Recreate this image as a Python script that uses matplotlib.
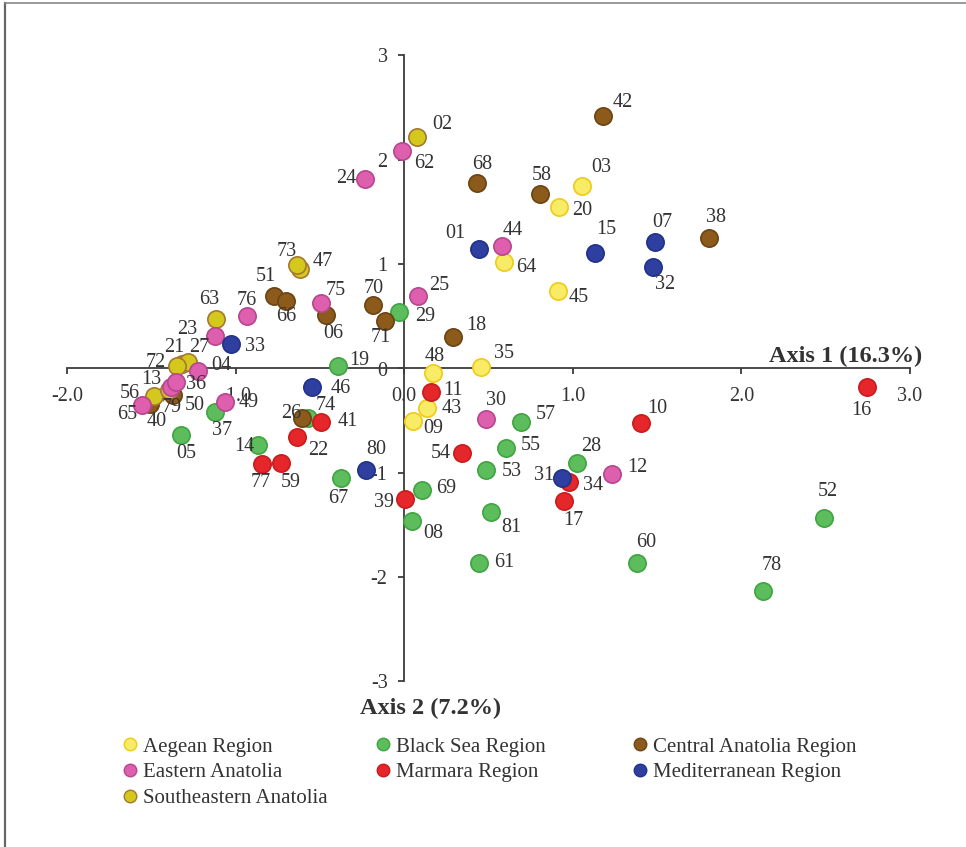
import matplotlib
matplotlib.use("Agg")
import matplotlib.pyplot as plt
from matplotlib.lines import Line2D

plt.rcParams['font.family'] = ['Liberation Serif', 'DejaVu Serif']

# ---------------- data ----------------
regions = ["Aegean Region", "Black Sea Region", "Central Anatolia Region",
           "Eastern Anatolia", "Marmara Region", "Mediterranean Region",
           "Southeastern Anatolia"]

aegean_codes = ["03", "09", "20", "35", "43", "45", "48", "64"]
aegean_x = [1.056, 0.053, 0.920, 0.457, 0.137, 0.914, 0.172, 0.593]
aegean_y = [1.750, -0.503, 1.548, 0.014, -0.379, 0.743, -0.043, 1.021]

blacksea_codes = ["05", "08", "14", "19", "28", "29", "37", "52", "53", "55",
                  "57", "60", "61", "67", "69", "74", "78", "81"]
blacksea_x = [-1.323, 0.047, -0.866, -0.392, 1.027, -0.030, -1.122, 2.487, 0.487, 0.605,
              0.694, 1.383, 0.445, -0.374, 0.107, -0.570, 2.131, 0.516]
blacksea_y = [-0.638, -1.462, -0.733, 0.024, -0.906, 0.542, -0.417, -1.433, -0.973, -0.762,
              -0.513, -1.865, -1.865, -1.050, -1.165, -0.475, -2.133, -1.376]

central_codes = ["06", "18", "26", "38", "40", "42", "50", "51", "58", "66", "68", "70", "71"]
central_x = [-0.463, 0.291, -0.605, 1.810, -1.507, 1.181, -1.371, -0.772, 0.807, -0.700,
             0.433, -0.184, -0.113]
central_y = [0.513, 0.302, -0.475, 1.251, -0.340, 2.421, -0.254, 0.695, 1.673, 0.647,
             1.779, 0.609, 0.455]

eastern_codes = ["04", "12", "13", "23", "24", "25", "30", "36", "44", "49", "62", "65", "75", "76"]
eastern_x = [-1.223, 1.234, -1.383, -1.122, -0.231, 0.083, 0.487, -1.353, 0.582, -1.062,
             -0.012, -1.555, -0.493, -0.932]
eastern_y = [-0.024, -1.012, -0.177, 0.312, 1.817, 0.695, -0.484, -0.129, 1.175, -0.321,
             2.085, -0.350, 0.628, 0.503]

marmara_codes = ["10", "11", "16", "17", "22", "34", "39", "41", "54", "59", "77"]
marmara_x = [1.407, 0.160, 2.742, 0.950, -0.635, 0.979, 0.006, -0.493, 0.344, -0.730, -0.843]
marmara_y = [-0.523, -0.225, -0.177, -1.270, -0.657, -1.088, -1.251, -0.513, -0.810, -0.906, -0.916]

medit_codes = ["01", "07", "15", "31", "32", "33", "46", "80"]
medit_x = [0.445, 1.490, 1.134, 0.938, 1.478, -1.027, -0.546, -0.226]
medit_y = [1.146, 1.213, 1.107, -1.050, 0.973, 0.235, -0.177, -0.973]

southeast_codes = ["02", "21", "27", "47", "56", "63", "72", "73", "79"]
southeast_x = [0.077, -1.318, -1.282, -0.617, -1.484, -1.116, -1.347, -0.635, -1.395]
southeast_y = [2.220, 0.043, 0.062, 0.954, -0.264, 0.475, 0.024, 0.992, -0.206]

x_ticks = [-2, -1, 0, 1, 2, 3]
x_tick_labels = ["-2.0", "-1.0", "0.0", "1.0", "2.0", "3.0"]
y_ticks = [-3, -2, -1, 0, 1, 2, 3]
y_tick_labels = ["-3", "-2", "-1", "0", "1", "2", "3"]

axis1_title = "Axis 1 (16.3%)"
axis2_title = "Axis 2 (7.2%)"

# ---------------- styles ----------------
styles = {
    "Aegean Region": ("#f8ec66", "#efcb16"),
    "Black Sea Region": ("#5dbd5c", "#3fa541"),
    "Central Anatolia Region": ("#8c5b1c", "#6b4413"),
    "Eastern Anatolia": ("#dd5fae", "#b7468f"),
    "Marmara Region": ("#e5262a", "#c91c1c"),
    "Mediterranean Region": ("#2e3fa0", "#22328a"),
    "Southeastern Anatolia": ("#d4c81c", "#a47832"),
}

# label offsets in pixels (dx right, dy down)
label_off = {
    "42": (19, -13), "02": (25, -12), "68": (5, -18), "58": (1, -18), "03": (19, -18),
    "20": (23, 4), "01": (-24, -15), "44": (10, -15), "64": (22, 6), "15": (11, -24),
    "07": (7, -19), "32": (12, 18), "38": (7, -20), "45": (20, 7), "62": (22, 13),
    "24": (-19, 0), "73": (-10, -14), "47": (23, -7), "51": (-8, -19), "66": (0, 16),
    "76": (0, -16), "75": (15, -12), "06": (7, 19), "70": (1, -16), "71": (-4, 16),
    "25": (21, -10), "29": (26, 5), "18": (23, -11), "63": (-7, -19), "23": (-28, -6),
    "33": (24, 3), "21": (-8, -17), "27": (11, -15), "72": (-21, -3), "04": (23, -6),
    "13": (-20, -7), "36": (20, 3), "56": (-24, -3), "65": (-15, 9), "40": (7, 18),
    "79": (3, 18), "50": (22, 10), "49": (24, 1), "37": (7, 18), "05": (5, 18),
    "14": (-14, 2), "19": (21, -5), "46": (29, 2), "74": (18, -13), "26": (-11, -5),
    "41": (27, -1), "22": (21, 13), "77": (-1, 18), "59": (10, 19), "67": (-3, 20),
    "80": (10, -21), "39": (-21, 3), "69": (24, -2), "08": (21, 12), "48": (1, -16),
    "11": (22, -1), "43": (24, 0), "09": (20, 8), "35": (23, -14), "30": (10, -18),
    "54": (-21, 0), "53": (25, 1), "81": (20, 15), "61": (25, -1), "57": (25, -8),
    "55": (25, -3), "28": (14, -17), "31": (-18, -3), "34": (24, 3), "17": (9, 19),
    "12": (25, -7), "10": (16, -15), "60": (9, -21), "16": (-5, 24), "52": (4, -27),
    "78": (8, -26),
}

series = {
    "Aegean Region": (aegean_codes, aegean_x, aegean_y),
    "Black Sea Region": (blacksea_codes, blacksea_x, blacksea_y),
    "Central Anatolia Region": (central_codes, central_x, central_y),
    "Eastern Anatolia": (eastern_codes, eastern_x, eastern_y),
    "Marmara Region": (marmara_codes, marmara_x, marmara_y),
    "Mediterranean Region": (medit_codes, medit_x, medit_y),
    "Southeastern Anatolia": (southeast_codes, southeast_x, southeast_y),
}
draw_order = ["Black Sea Region", "Central Anatolia Region", "Aegean Region",
              "Marmara Region", "Southeastern Anatolia", "Eastern Anatolia",
              "Mediterranean Region"]

# ---------------- figure ----------------
W, H = 966, 847
fig = plt.figure(figsize=(W / 100, H / 100), dpi=100)
ax = fig.add_axes([67 / W, 1 - 681.5 / H, 843 / W, 626 / H])
ax.set_xlim(-2, 3)
ax.set_ylim(-3, 3)

axis_col = "#3c3c3c"
text_col = "#333333"
for s in ["top", "right"]:
    ax.spines[s].set_visible(False)
ax.spines["left"].set_position(("data", 0))
ax.spines["bottom"].set_position(("data", 0))
for s in ["left", "bottom"]:
    ax.spines[s].set_color(axis_col)
    ax.spines[s].set_linewidth(1.3)
ax.xaxis.set_ticks_position("bottom")
ax.yaxis.set_ticks_position("left")
ax.set_xticks(x_ticks)
ax.set_xticklabels(x_tick_labels)
ax.set_yticks(y_ticks)
ax.set_yticklabels(y_tick_labels)
ax.tick_params(axis="x", direction="out", length=4, width=1.3, color=axis_col,
               labelsize=14.5, labelcolor=text_col, pad=9)
ax.tick_params(axis="y", direction="out", length=4, width=1.3, color=axis_col,
               labelsize=14.5, labelcolor=text_col, pad=8)
ax.patch.set_alpha(0)

for reg in draw_order:
    codes, xs, ys = series[reg]
    fc, ec = styles[reg]
    ax.scatter(xs, ys, s=155, c=fc, edgecolors=ec, linewidths=1.2,
               zorder=3, clip_on=False)

for reg in draw_order:
    codes, xs, ys = series[reg]
    for c, x, y in zip(codes, xs, ys):
        dx, dy = label_off[c]
        ax.annotate(c, (x, y), xytext=(dx, -dy), textcoords="offset pixels",
                    ha="center", va="center", fontsize=14.5, color=text_col,
                    zorder=5, annotation_clip=False)

ax.text(3.074, 0.12, axis1_title, ha="right", va="center", fontsize=17.5,
        fontweight="bold", color=text_col)
ax.text(0.154, -3.255, axis2_title, ha="center", va="center", fontsize=17.5,
        fontweight="bold", color=text_col)

# legend: three columns
cols = [["Aegean Region", "Eastern Anatolia", "Southeastern Anatolia"],
        ["Black Sea Region", "Marmara Region"],
        ["Central Anatolia Region", "Mediterranean Region"]]
col_left_px = [122, 375, 632]
for names, lx in zip(cols, col_left_px):
    handles = [Line2D([], [], marker="o", linestyle="none", markersize=9,
                      markerfacecolor=styles[n][0], markeredgecolor=styles[n][1],
                      markeredgewidth=1.0) for n in names]
    fig.legend(handles, names, loc="upper left",
               bbox_to_anchor=(lx / W, 1 - 737 / H), frameon=False,
               fontsize=15, borderpad=0, borderaxespad=0, handlelength=0.75,
               handletextpad=0.25, labelspacing=0.3, labelcolor=text_col)

# figure border (left and top)
fig.add_artist(Line2D([5 / W, 5 / W], [0, 1 - 3 / H], color="#666666", lw=1.6,
                      transform=fig.transFigure))
fig.add_artist(Line2D([5 / W, 1], [1 - 3 / H, 1 - 3 / H], color="#888888", lw=1.2,
                      transform=fig.transFigure))

fig.savefig("out.png", dpi=100)
